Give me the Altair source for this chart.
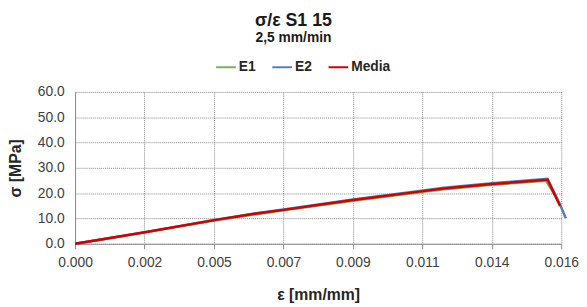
import altair as alt
import pandas as pd

# strain values (mm/mm) and stress (MPa)
eps_e1 = [0.0, 0.0010, 0.00230, 0.00458, 0.00597, 0.00686, 0.00915, 0.01146, 0.01214, 0.01372, 0.01550, 0.01580]
sig_e1 = [0.0, 1.9, 4.5, 9.2, 11.7, 13.2, 17.0, 20.5, 21.5, 23.3, 24.9, 19.0]

eps_e2 = [0.0, 0.0010, 0.00230, 0.00458, 0.00597, 0.00686, 0.00915, 0.01146, 0.01214, 0.01372, 0.01555, 0.01596, 0.01615]
sig_e2 = [0.0, 2.0, 4.6, 9.4, 12.1, 13.6, 17.5, 21.1, 22.1, 23.9, 25.7, 15.5, 10.1]

eps_media = [0.0, 0.0010, 0.00230, 0.00458, 0.00597, 0.00686, 0.00915, 0.01146, 0.01214, 0.01372, 0.01555, 0.01596]
sig_media = [0.0, 2.0, 4.56, 9.35, 11.95, 13.4, 17.3, 20.8, 21.8, 23.6, 25.3, 14.9]

series = ["E1", "E2", "Media"]
colors = ["#7FAF55", "#4F7FBD", "#D40000"]

x_ticks = [i * 0.016 / 7 for i in range(8)]
y_ticks = [0, 10, 20, 30, 40, 50, 60]

rows = []
for name, xs, ys in [("E1", eps_e1, sig_e1), ("E2", eps_e2, sig_e2), ("Media", eps_media, sig_media)]:
    for x, y in zip(xs, ys):
        rows.append({"serie": name, "eps": x, "sig": y})
df = pd.DataFrame(rows)

FONT = "Liberation Sans"

chart = alt.Chart(df).mark_line(strokeWidth=2.5, clip=False).encode(
    x=alt.X("eps:Q",
            scale=alt.Scale(domain=[0, 0.016], nice=False, zero=True),
            axis=alt.Axis(values=x_ticks, format=".3f", title="ε [mm/mm]",
                          grid=True, gridDash=[1, 1], gridColor="#858585",
                          domainColor="#8C8C8C", tickColor="#8C8C8C", tickSize=5,
                          labelFontSize=14, labelColor="#404040", labelPadding=7,
                          labelFont=FONT, titleFont=FONT, titleFontSize=16,
                          titleFontWeight="bold", titleColor="#262626",
                          titlePadding=18, labelFlush=False)),
    y=alt.Y("sig:Q",
            scale=alt.Scale(domain=[0, 60], nice=False),
            axis=alt.Axis(values=y_ticks, format=".1f", title="σ [MPa]",
                          grid=True, gridDash=[1, 1], gridColor="#858585",
                          domainColor="#8C8C8C", ticks=False, tickSize=0,
                          labelFontSize=14, labelColor="#404040", labelPadding=11,
                          labelFont=FONT, titleFont=FONT, titleFontSize=16,
                          titleFontWeight="bold", titleColor="#262626",
                          titlePadding=14, labelFlush=False)),
    color=alt.Color("serie:N",
                    scale=alt.Scale(domain=series, range=colors),
                    legend=alt.Legend(title=None, orient="none", direction="horizontal",
                                      legendX=142, legendY=-36,
                                      symbolType="stroke", symbolSize=400,
                                      symbolStrokeWidth=2, labelOffset=2,
                                      columnPadding=12, labelFont=FONT,
                                      labelFontSize=14, labelFontWeight="bold",
                                      labelColor="#262626")),
).properties(
    width=493,
    height=154,
    title=alt.TitleParams(text="σ/ε S1 15", subtitle="2,5 mm/min",
                          anchor="middle", frame="group", dx=-25,
                          font=FONT, fontSize=18, fontWeight="bold", color="#1a1a1a",
                          subtitleFont=FONT, subtitleFontSize=14,
                          subtitleFontWeight="bold", subtitleColor="#1a1a1a",
                          subtitlePadding=1, offset=12),
    autosize=alt.AutoSizeParams(type="none"),
    padding={"left": 68, "top": 83, "right": 18, "bottom": 60},
).configure_view(stroke=None)

chart.save("out.html", embed_options={"renderer": "svg", "actions": False})
